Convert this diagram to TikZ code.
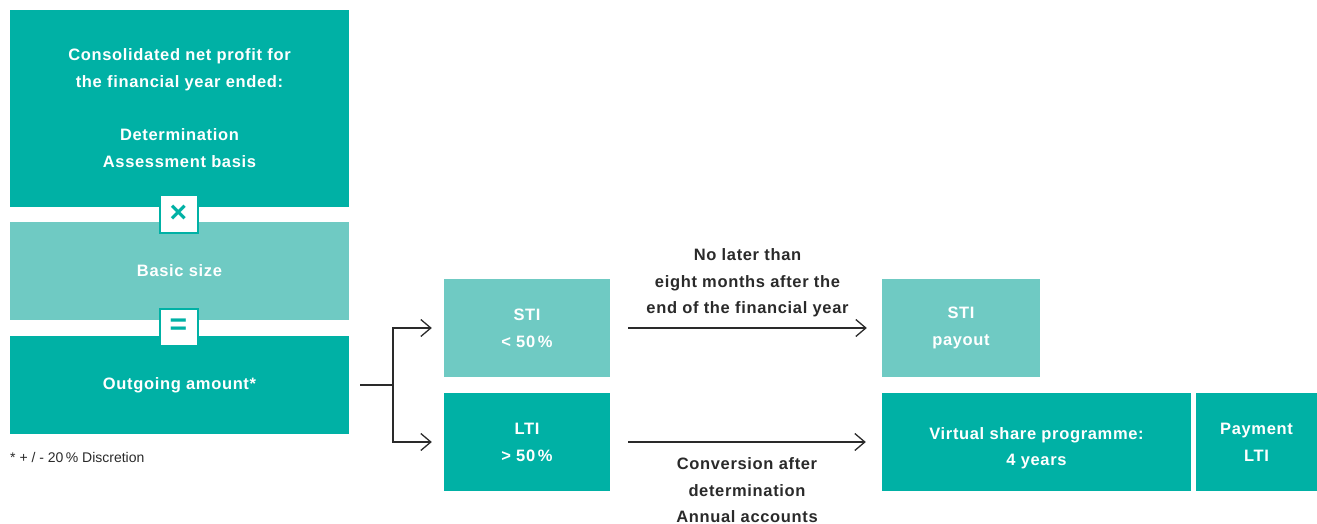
\documentclass[tikz,border=0pt]{standalone}
\usepackage{fontspec}
\setmainfont{Liberation Sans}
\newfontfamily\boxfont{Liberation Sans}[LetterSpace=4]
\usetikzlibrary{arrows.meta}
\definecolor{tealD}{HTML}{00B1A5}
\definecolor{tealL}{HTML}{6FCAC3}
\definecolor{txtD}{HTML}{2A2A2A}
\begin{document}
\begin{tikzpicture}[x=1pt,y=1pt,
  darkbox/.style={rectangle, fill=tealD, text=white, draw=none, inner sep=0pt, align=center,
    font=\boxfont\bfseries\fontsize{16.5}{27}\selectfont},
  lightbox/.style={darkbox, fill=tealL},
  opbox/.style={rectangle, draw=tealD, line width=2pt, fill=white, minimum width=38pt, minimum height=37pt,
    inner sep=0pt, text=tealD, font=\bfseries\fontsize{30}{30}\selectfont},
  lbl/.style={text=txtD, align=center, inner sep=0pt, font=\boxfont\bfseries\fontsize{16.5}{26.5}\selectfont},
  conn/.style={draw=txtD, line width=1.3pt},
  arr/.style={conn, -{Straight Barb[length=10pt,width=17pt,line width=1.3pt]}}
]
\useasboundingbox (0,0) rectangle (1317,523);
% left column
\node[darkbox, minimum width=339pt, minimum height=197pt] (np) at (179.5,414.5)
  {Consolidated net profit for\\the financial year ended:\\[26pt]Determination\\Assessment basis};
\node[lightbox, minimum width=339pt, minimum height=98pt] (bs) at (179.5,252) {Basic size};
\node[darkbox, minimum width=339pt, minimum height=98pt] (oa) at (179.5,138) {Outgoing amount*};
\node[opbox] (times) at (178.5,309) {×};
\node[opbox] (equals) at (178.5,196) {=};
\node[anchor=west, inner sep=0pt, text=txtD, font=\fontsize{14}{16}\selectfont] (fn) at (10,66)
  {* + / - 20\,\% Discretion};
% middle
\node[lightbox, minimum width=166pt, minimum height=98pt] (sti) at (527,195) {STI\\< 50\,\%};
\node[darkbox, minimum width=166pt, minimum height=98pt] (lti) at (527,81) {LTI\\> 50\,\%};
% right
\node[lightbox, minimum width=158pt, minimum height=98pt] (stip) at (961,195) {STI\\payout};
\node[darkbox, minimum width=309pt, minimum height=98pt, font=\boxfont\bfseries\fontsize{16.5}{26}\selectfont] (vsp) at (1036.5,81)
  {\rule{0pt}{24pt}Virtual share programme:\\4 years};
\node[darkbox, minimum width=121pt, minimum height=98pt] (pay) at (1256.5,81) {Payment\\LTI};
% connectors
\coordinate (j) at (393,138);
\draw[conn] ([xshift=11pt]oa.east) -- (j);
\draw[arr] (j) |- ([xshift=-12pt]sti.west);
\draw[arr] (j) |- ([xshift=-12pt]lti.west);
\draw[arr] ([xshift=18pt]sti.east) -- ([xshift=-15pt]stip.west)
  node[lbl, midway, anchor=south, yshift=10pt] (l1) {No later than\\eight months after the\\end of the financial year};
\draw[arr] ([xshift=18pt]lti.east) -- ([xshift=-16pt]vsp.west)
  node[lbl, midway, anchor=north, yshift=-15pt] (l2) {Conversion after\\determination\\Annual accounts};
\end{tikzpicture}
\end{document}
